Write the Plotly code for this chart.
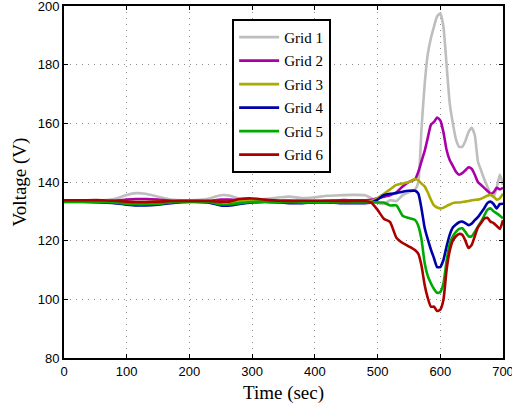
import plotly.graph_objects as go

# Sample times (s)
time = [0, 30, 60, 80, 100, 115, 130, 150, 170, 200, 230, 250, 265, 280, 300,
        320, 345, 360, 380, 400, 420, 440, 460, 480, 490, 500, 510, 520, 530,
        540, 550, 560, 565, 570, 575, 580, 585, 590, 595, 600, 605, 610, 615,
        620, 625, 630, 635, 640, 645, 650, 655, 660, 665, 670, 675, 680, 685,
        690, 695, 700]

grid1 = [133.8, 133.8, 133.8, 134.2, 135.6, 136.2, 136.0, 135.0, 134.0, 133.8,
         134.3, 135.5, 135.3, 134.3, 134.0, 134.2, 134.8, 135.0, 134.5, 134.8,
         135.3, 135.5, 135.6, 135.5, 134.5, 133.0, 132.5, 133.8, 133.5, 135.5,
         136.5, 137.5, 140.0, 158.0, 173.0, 183.5, 189.0, 193.0, 196.5, 197.5,
         193.0, 180.0, 167.0, 160.0, 154.5, 152.0, 152.0, 154.0, 157.0, 158.5,
         156.0, 147.0, 144.0, 141.0, 138.5, 136.0, 135.0, 138.0, 142.5, 139.0]

grid2 = [133.5, 133.5, 133.5, 133.6, 134.0, 134.2, 134.2, 134.0, 133.6, 133.5,
         133.6, 134.0, 134.0, 133.8, 133.5, 133.5, 133.6, 133.7, 133.5, 133.5,
         133.6, 133.8, 133.8, 133.8, 133.9, 134.5, 135.0, 135.5, 136.5, 138.5,
         140.0, 141.0, 143.5, 147.0, 150.5, 155.0, 159.5, 160.5, 162.0, 161.0,
         157.0, 151.0, 147.5, 145.5, 143.5, 142.5, 143.0, 144.0, 145.0, 144.5,
         142.5, 140.0, 139.0, 138.0, 137.0, 136.0, 136.5, 138.0, 137.5, 138.0]

grid3 = [133.4, 133.4, 133.4, 133.3, 133.2, 133.2, 133.2, 133.3, 133.4, 133.4,
         133.4, 133.2, 133.2, 133.4, 133.5, 133.5, 133.4, 133.4, 133.4, 133.4,
         133.4, 133.4, 133.4, 133.4, 133.5, 134.5, 136.0, 137.5, 139.0, 139.5,
         140.0, 141.0, 140.5, 139.5, 138.5, 136.5, 134.0, 132.0, 131.3, 131.0,
         131.2, 131.8, 132.3, 132.8, 133.0, 133.0, 133.2, 133.3, 133.5, 133.8,
         133.9, 134.0, 134.3, 134.8, 135.3, 135.6, 135.0, 134.0, 134.5, 136.0]

grid4 = [133.2, 133.2, 133.0, 132.8, 132.3, 132.0, 132.0, 132.3, 132.8, 133.2,
         133.0, 132.0, 132.0, 132.5, 133.0, 133.2, 133.0, 132.8, 132.8, 133.0,
         133.0, 132.8, 132.8, 132.8, 133.0, 134.0, 135.5, 136.0, 136.2, 136.7,
         137.0, 137.0, 136.0, 131.0, 124.5, 120.5, 117.0, 114.0, 111.0, 111.0,
         113.4, 118.0, 122.0, 124.5, 125.5, 126.3, 126.5, 126.0, 125.3, 125.8,
         127.0, 128.0, 129.5, 131.0, 132.8, 133.3, 132.5, 131.0, 132.5, 132.6]

grid5 = [133.3, 133.3, 133.2, 133.0, 132.6, 132.4, 132.4, 132.6, 133.0, 133.3,
         133.2, 132.4, 132.4, 132.8, 133.2, 133.3, 133.2, 133.1, 133.0, 133.1,
         133.1, 133.0, 133.0, 133.0, 133.1, 133.0, 133.0, 132.0, 132.0, 128.5,
         127.7, 127.0, 125.0, 120.5, 112.5, 108.0, 105.5, 103.5, 102.2, 102.5,
         105.4, 113.0, 119.0, 121.5, 123.0, 124.0, 124.2, 123.0, 121.5, 121.5,
         123.0, 124.8, 126.5, 128.5, 130.5, 131.0, 130.0, 129.3, 128.5, 127.6]

grid6 = [133.8, 133.8, 133.8, 133.6, 133.3, 133.2, 133.2, 133.3, 133.5, 133.6,
         133.5, 133.3, 133.4, 134.2, 134.4, 134.0, 133.6, 133.5, 133.6, 133.6,
         133.6, 133.5, 133.5, 133.5, 133.0, 130.5, 127.5, 126.3, 121.0, 119.2,
         118.0, 116.7, 115.5, 111.5, 105.0, 100.5, 97.5, 97.5, 96.0, 96.5,
         99.8, 110.0, 116.5, 120.0, 121.5, 122.3, 122.0, 120.0, 117.5, 118.5,
         121.5, 124.5, 126.0, 127.5, 127.8, 126.5, 126.0, 125.0, 124.0, 127.0]

names = ["Grid 1", "Grid 2", "Grid 3", "Grid 4", "Grid 5", "Grid 6"]
series = [grid1, grid2, grid3, grid4, grid5, grid6]
colors = ["#bebebe", "#aa00aa", "#aaaa00", "#0000aa", "#00aa00", "#aa0000"]

x_ticks = [0, 100, 200, 300, 400, 500, 600, 700]
y_ticks = [80, 100, 120, 140, 160, 180, 200]

fig = go.Figure()
for name, vals, col in zip(names, series, colors):
    fig.add_trace(go.Scatter(
        x=time, y=vals, name=name, mode="lines",
        line=dict(color=col, width=2.6, shape="spline", smoothing=0.5),
        legendgroup=name,
    ))

axis_common = dict(
    showgrid=True, gridcolor="#8c8c8c", griddash="1px,5px", gridwidth=1,
    showline=True, linecolor="black", linewidth=1.8, mirror="ticks",
    ticks="inside", ticklen=4, tickcolor="black", zeroline=False,
    automargin=False, ticklabeloverflow="allow",
    tickfont=dict(family="Liberation Sans", size=13, color="black"),
)

fig.update_layout(
    width=512, height=407,
    margin=dict(l=64, r=9, t=6, b=49),
    paper_bgcolor="white", plot_bgcolor="white",
    xaxis=dict(range=[0, 700], tickvals=x_ticks,
               title=dict(text="Time (sec)", standoff=8,
                          font=dict(family="Liberation Serif", size=19, color="black")),
               **axis_common),
    yaxis=dict(range=[80, 200], tickvals=y_ticks,
               title=dict(text="Voltage (V)", standoff=6,
                          font=dict(family="Liberation Serif", size=19, color="black")),
               **axis_common),
    legend=dict(x=0.383, y=0.9635, xanchor="left", yanchor="top",
                bgcolor="white", bordercolor="black", borderwidth=2,
                font=dict(family="Liberation Serif", size=15, color="black"),
                itemwidth=40, tracegroupgap=1),
    showlegend=True,
)

fig.write_html("out.html")
